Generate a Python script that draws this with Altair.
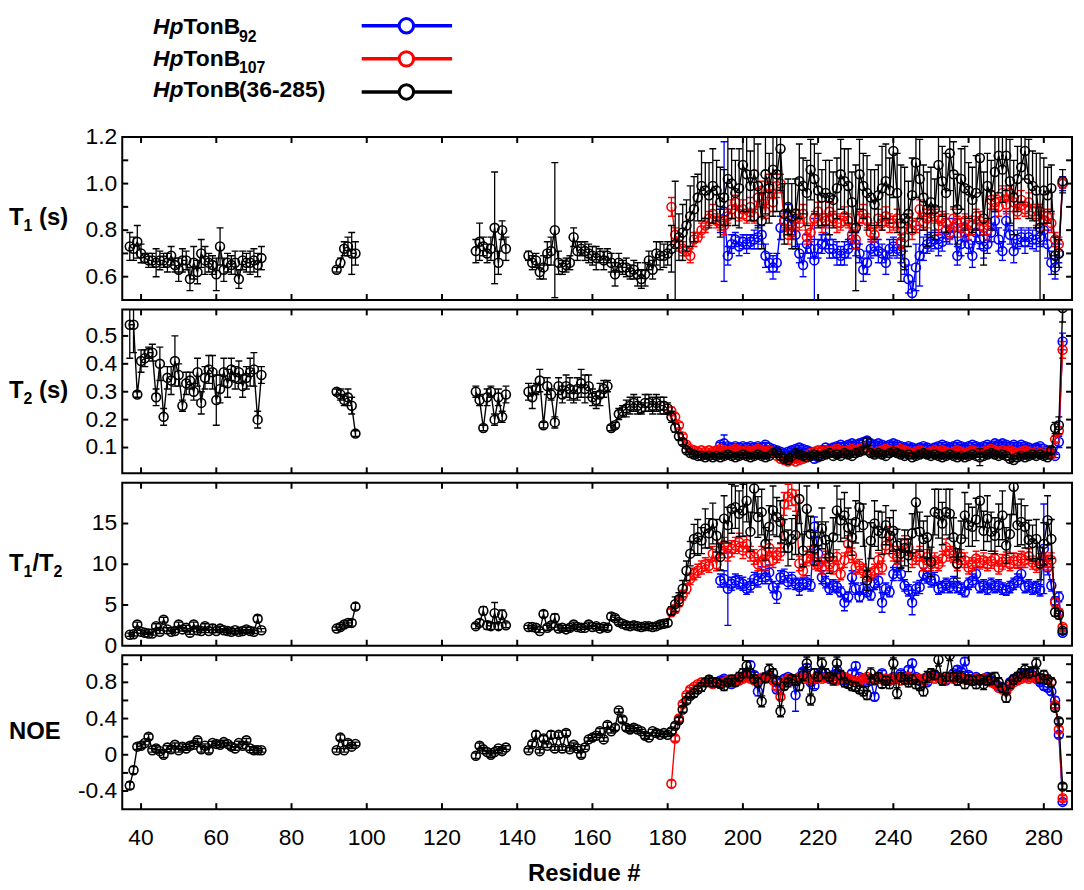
import altair as alt
import pandas as pd

BLUE, RED, BLACK = "#0000ff", "#ff0000", "#000000"
FONT = "Liberation Sans"

# residue ranges of each series (black has gaps)
BLACK_SEGMENTS = [(37, 72), (92, 97), (129, 137), (143, 285)]
RED_SEGMENTS = [(181, 285)]
BLUE_SEGMENTS = [(194, 285)]

X_TICKS = [40, 60, 80, 100, 120, 140, 160, 180, 200, 220, 240, 260, 280]
X_TICK_LABELS = ["40", "60", "80", "100", "120", "140", "160", "180", "200", "220", "240", "260", "280"]
X_TITLE = "Residue #"

LEGEND_SUFFIX = ["92", "107", "(36-285)"]
LEGEND_IS_SUB = [True, True, False]
LEGEND_COLORS = [BLUE, RED, BLACK]

# ---------------- T1 (s) ----------------
T1_BLACK = [
    0.73, 0.72, 0.75, 0.70, 0.68, 0.67, 0.67, 0.66, 0.67, 0.67,
    0.66, 0.69, 0.65, 0.63, 0.67, 0.67, 0.59, 0.66, 0.62, 0.70,
    0.67, 0.66, 0.65, 0.61, 0.73, 0.63, 0.66, 0.65, 0.66, 0.59,
    0.67, 0.66, 0.66, 0.67, 0.65, 0.68,
    0.63, 0.66, 0.72, 0.73, 0.70, 0.70,
    0.71, 0.75, 0.73, 0.70, 0.72, 0.81, 0.66, 0.80, 0.72,
    0.69, 0.66, 0.67, 0.62, 0.64, 0.70, 0.71,
    0.80, 0.66, 0.64, 0.65, 0.66, 0.77, 0.71, 0.72, 0.71, 0.70,
    0.69, 0.68, 0.69, 0.67, 0.69, 0.66, 0.61, 0.66, 0.64, 0.64,
    0.62, 0.63, 0.61, 0.59, 0.61, 0.67, 0.63, 0.70, 0.69, 0.69, 0.70,
    0.72, 0.74, 0.77, 0.79, 0.82, 0.86, 0.89, 0.94, 0.99, 0.97,
    0.95, 0.99, 0.97, 0.92, 0.94, 1.02, 1.00, 0.96, 0.98, 1.08,
    1.04, 0.99, 1.04, 0.99, 0.84, 1.04, 0.98, 1.06, 1.04, 1.15,
    0.87, 0.90, 0.86, 0.87, 1.01, 0.99, 0.96, 1.06, 1.02, 0.97,
    0.94, 0.96, 0.94, 0.93, 0.98, 1.04, 1.01, 0.99, 0.92, 0.81,
    1.04, 0.99, 0.96, 0.94, 0.91, 0.95, 0.98, 1.01, 0.97, 1.14,
    0.96, 0.83, 0.85, 0.87, 0.95, 1.09, 1.02, 0.94, 0.89, 0.92,
    0.89, 1.08, 1.01, 0.96, 1.13, 1.04, 0.89, 1.02, 0.98, 0.97,
    0.93, 0.96, 1.11, 0.85, 0.99, 0.95, 1.05, 1.12, 1.06, 1.12,
    1.01, 0.94, 1.02, 1.07, 1.14, 1.02, 0.99, 0.97, 0.81, 0.97,
    0.95, 0.98, 0.69, 0.70, 1.01,
]
T1_BLACK_ERR = [
    0.06, 0.05, 0.07, 0.04, 0.02, 0.03, 0.03, 0.06, 0.04, 0.03,
    0.04, 0.04, 0.03, 0.05, 0.05, 0.04, 0.05, 0.07, 0.05, 0.06,
    0.06, 0.04, 0.04, 0.07, 0.08, 0.05, 0.04, 0.04, 0.05, 0.04,
    0.04, 0.04, 0.05, 0.05, 0.05, 0.05,
    0.01, 0.02, 0.03, 0.04, 0.09, 0.05,
    0.05, 0.08, 0.04, 0.04, 0.05, 0.24, 0.05, 0.04, 0.05,
    0.02, 0.03, 0.03, 0.03, 0.05, 0.05, 0.06,
    0.29, 0.05, 0.03, 0.03, 0.03, 0.04, 0.04, 0.03, 0.04, 0.04,
    0.04, 0.05, 0.03, 0.04, 0.03, 0.04, 0.05, 0.04, 0.03, 0.04,
    0.03, 0.04, 0.05, 0.04, 0.05, 0.04, 0.04, 0.05, 0.06, 0.05, 0.05,
    0.10, 0.27, 0.10, 0.12, 0.11, 0.13, 0.14, 0.10, 0.15, 0.12,
    0.14, 0.16, 0.13, 0.15, 0.12, 0.20, 0.15, 0.14, 0.17, 0.20,
    0.16, 0.15, 0.20, 0.18, 0.12, 0.17, 0.15, 0.20, 0.16, 0.18,
    0.13, 0.12, 0.14, 0.15, 0.16, 0.12, 0.14, 0.13, 0.15, 0.16,
    0.12, 0.14, 0.16, 0.12, 0.13, 0.15, 0.14, 0.16, 0.13, 0.27,
    0.15, 0.14, 0.16, 0.12, 0.15, 0.13, 0.18, 0.16, 0.14, 0.20,
    0.17, 0.25, 0.22, 0.14, 0.16, 0.15, 0.17, 0.14, 0.16, 0.15,
    0.13, 0.18, 0.15, 0.17, 0.16, 0.14, 0.15, 0.13, 0.18, 0.12,
    0.14, 0.16, 0.15, 0.20, 0.14, 0.15, 0.17, 0.16, 0.14, 0.15,
    0.18, 0.16, 0.14, 0.15, 0.12, 0.17, 0.15, 0.16, 0.32, 0.14,
    0.12, 0.10, 0.08, 0.06, 0.05,
]
T1_RED = [
    0.90, 0.78, 0.74, 0.72, 0.71, 0.69, 0.76, 0.77, 0.80, 0.82,
    0.85, 0.87, 0.84, 0.83, 0.82, 0.86, 0.89, 0.92, 0.87, 0.89,
    0.86, 0.90, 0.86, 0.94, 0.97, 0.88, 0.99, 0.92, 0.99, 1.00,
    0.84, 0.78, 0.79, 0.85, 0.83, 0.87, 0.77, 0.79, 0.85, 0.88,
    0.83, 0.84, 0.88, 0.85, 0.83, 0.83, 0.86, 0.84, 0.78, 0.76,
    0.85, 0.87, 0.84, 0.79, 0.78, 0.85, 0.83, 0.86, 0.83, 0.83,
    0.85, 0.75, 0.77, 0.84, 0.80, 0.82, 0.89, 0.83, 0.85, 0.87,
    0.86, 0.82, 0.85, 0.83, 0.79, 0.85, 0.83, 0.81, 0.84, 0.80,
    0.82, 0.86, 0.84, 0.81, 0.80, 0.93, 0.92, 0.90, 0.96, 0.91,
    0.96, 0.92, 0.88, 0.93, 0.89, 0.92, 0.88, 0.86, 0.88, 0.84,
    0.86, 0.83, 0.76, 0.74, 1.00,
]
T1_RED_ERR = [
    0.04, 0.03, 0.03, 0.03, 0.02, 0.03, 0.03, 0.02, 0.03, 0.03,
    0.03, 0.04, 0.03, 0.03, 0.04, 0.03, 0.04, 0.03, 0.03, 0.04,
    0.03, 0.04, 0.03, 0.04, 0.04, 0.03, 0.05, 0.04, 0.05, 0.04,
    0.03, 0.04, 0.03, 0.04, 0.03, 0.04, 0.03, 0.04, 0.03, 0.04,
    0.04, 0.03, 0.04, 0.03, 0.04, 0.03, 0.04, 0.03, 0.03, 0.04,
    0.03, 0.04, 0.03, 0.04, 0.03, 0.04, 0.03, 0.04, 0.04, 0.03,
    0.04, 0.03, 0.04, 0.03, 0.04, 0.03, 0.04, 0.03, 0.04, 0.03,
    0.03, 0.04, 0.03, 0.04, 0.03, 0.04, 0.03, 0.04, 0.03, 0.04,
    0.04, 0.03, 0.04, 0.03, 0.04, 0.04, 0.03, 0.04, 0.03, 0.04,
    0.03, 0.04, 0.03, 0.04, 0.03, 0.04, 0.03, 0.04, 0.03, 0.04,
    0.03, 0.04, 0.03, 0.03, 0.02,
]
T1_BLUE = [
    0.84, 0.88, 0.69, 0.74, 0.76, 0.73, 0.75,
    0.74, 0.75, 0.76, 0.77, 0.78, 0.69, 0.66, 0.64, 0.66, 0.81,
    0.84, 0.86, 0.82, 0.78, 0.70, 0.65, 0.74, 0.72, 0.67, 0.72,
    0.74, 0.77, 0.72, 0.72, 0.70, 0.69, 0.70, 0.72, 0.76, 0.74,
    0.70, 0.63, 0.66, 0.72, 0.73, 0.71, 0.70, 0.66, 0.72, 0.73,
    0.72, 0.71, 0.66, 0.59, 0.53, 0.64, 0.69, 0.72, 0.74, 0.75,
    0.76, 0.74, 0.75, 0.80, 0.78, 0.81, 0.69, 0.74, 0.79, 0.74,
    0.69, 0.79, 0.76, 0.73, 0.74, 0.79, 0.84, 0.76, 0.71, 0.84,
    0.78, 0.71, 0.76, 0.77, 0.75, 0.77, 0.76, 0.76, 0.77, 0.80,
    0.74, 0.66, 0.64, 0.70, 1.00,
]
T1_BLUE_ERR = [
    0.05, 0.30, 0.04, 0.04, 0.03, 0.04, 0.03,
    0.04, 0.03, 0.04, 0.05, 0.04, 0.05, 0.04, 0.05, 0.04, 0.05,
    0.04, 0.05, 0.04, 0.05, 0.04, 0.05, 0.04, 0.04, 0.18, 0.04,
    0.04, 0.05, 0.04, 0.04, 0.05, 0.04, 0.05, 0.04, 0.04, 0.05,
    0.04, 0.05, 0.05, 0.04, 0.04, 0.05, 0.04, 0.05, 0.04, 0.04,
    0.04, 0.05, 0.05, 0.06, 0.05, 0.10, 0.13, 0.05, 0.04, 0.04,
    0.04, 0.05, 0.04, 0.05, 0.04, 0.04, 0.04, 0.05, 0.04, 0.04,
    0.05, 0.04, 0.04, 0.05, 0.04, 0.04, 0.04, 0.05, 0.04, 0.04,
    0.04, 0.05, 0.04, 0.04, 0.05, 0.04, 0.04, 0.05, 0.04, 0.06,
    0.06, 0.05, 0.05, 0.04, 0.03,
]

# ---------------- T2 (s) ----------------
T2_BLACK = [
    0.54, 0.54, 0.29, 0.41, 0.42, 0.44, 0.44, 0.28, 0.40, 0.21,
    0.35, 0.34, 0.41, 0.36, 0.25, 0.33, 0.34, 0.30, 0.37, 0.26,
    0.35, 0.38, 0.37, 0.27, 0.31, 0.37, 0.33, 0.38, 0.35, 0.37,
    0.32, 0.35, 0.37, 0.38, 0.20, 0.36,
    0.30, 0.29, 0.27, 0.28, 0.25, 0.15,
    0.30, 0.27, 0.17, 0.28, 0.30, 0.20, 0.28, 0.21, 0.29,
    0.30, 0.28, 0.31, 0.34, 0.18, 0.32, 0.29,
    0.19, 0.32, 0.29, 0.32, 0.31, 0.29, 0.31, 0.33, 0.31, 0.32,
    0.28, 0.27, 0.29, 0.31, 0.32, 0.17, 0.18, 0.22, 0.23, 0.24,
    0.25, 0.26, 0.25, 0.24, 0.26, 0.26, 0.25, 0.26, 0.25, 0.25, 0.24,
    0.21, 0.17, 0.14, 0.12, 0.09, 0.08, 0.075, 0.07, 0.07, 0.065,
    0.07, 0.065, 0.07, 0.065, 0.07, 0.075, 0.07, 0.065, 0.07, 0.075,
    0.07, 0.065, 0.07, 0.075, 0.07, 0.065, 0.07, 0.08, 0.085, 0.07,
    0.06, 0.055, 0.07, 0.08, 0.075, 0.07, 0.065, 0.07, 0.075, 0.07,
    0.07, 0.075, 0.08, 0.07, 0.075, 0.07, 0.08, 0.075, 0.07, 0.08,
    0.085, 0.09, 0.12, 0.08, 0.075, 0.08, 0.075, 0.07, 0.08, 0.085,
    0.08, 0.075, 0.07, 0.075, 0.065, 0.07, 0.075, 0.08, 0.075, 0.07,
    0.075, 0.07, 0.065, 0.07, 0.075, 0.07, 0.065, 0.07, 0.065, 0.07,
    0.075, 0.07, 0.065, 0.07, 0.075, 0.08, 0.075, 0.07, 0.075, 0.07,
    0.06, 0.055, 0.065, 0.07, 0.065, 0.07, 0.075, 0.07, 0.075, 0.07,
    0.065, 0.09, 0.17, 0.18, 0.60,
]
T2_BLACK_ERR = [
    0.12, 0.10, 0.01, 0.04, 0.03, 0.02, 0.03, 0.03, 0.06, 0.03,
    0.04, 0.05, 0.09, 0.04, 0.02, 0.04, 0.03, 0.03, 0.05, 0.04,
    0.04, 0.05, 0.06, 0.09, 0.05, 0.05, 0.05, 0.04, 0.04, 0.04,
    0.04, 0.04, 0.05, 0.06, 0.03, 0.03,
    0.01, 0.02, 0.02, 0.03, 0.03, 0.01,
    0.02, 0.02, 0.01, 0.03, 0.02, 0.02, 0.03, 0.02, 0.03,
    0.03, 0.04, 0.02, 0.04, 0.01, 0.03, 0.02,
    0.02, 0.03, 0.03, 0.04, 0.04, 0.03, 0.04, 0.05, 0.05, 0.04,
    0.03, 0.03, 0.04, 0.03, 0.02, 0.01, 0.01, 0.02, 0.02, 0.03,
    0.03, 0.03, 0.03, 0.02, 0.03, 0.03, 0.03, 0.03, 0.03, 0.03, 0.02,
    0.020, 0.015, 0.012, 0.010, 0.008, 0.006, 0.006, 0.005, 0.006, 0.005,
    0.005, 0.006, 0.006, 0.005, 0.006, 0.007, 0.005, 0.006, 0.006, 0.005,
    0.006, 0.005, 0.006, 0.007, 0.006, 0.005, 0.006, 0.007, 0.008, 0.006,
    0.005, 0.005, 0.006, 0.007, 0.006, 0.005, 0.006, 0.006, 0.007, 0.006,
    0.006, 0.007, 0.006, 0.005, 0.006, 0.006, 0.007, 0.006, 0.005, 0.007,
    0.008, 0.009, 0.015, 0.006, 0.006, 0.007, 0.006, 0.005, 0.007, 0.008,
    0.007, 0.006, 0.005, 0.006, 0.005, 0.006, 0.006, 0.007, 0.006, 0.005,
    0.006, 0.005, 0.005, 0.006, 0.006, 0.005, 0.005, 0.006, 0.005, 0.006,
    0.006, 0.005, 0.030, 0.006, 0.006, 0.007, 0.006, 0.005, 0.006, 0.005,
    0.005, 0.005, 0.006, 0.006, 0.005, 0.006, 0.006, 0.005, 0.006, 0.006,
    0.006, 0.010, 0.020, 0.030, 0.050,
]
T2_RED = [
    0.23, 0.21, 0.18, 0.14, 0.11, 0.095, 0.09, 0.085, 0.09, 0.085,
    0.09, 0.085, 0.09, 0.095, 0.09, 0.085, 0.09, 0.095, 0.09, 0.085,
    0.09, 0.085, 0.09, 0.095, 0.09, 0.085, 0.09, 0.08, 0.07, 0.06,
    0.055, 0.05, 0.055, 0.05, 0.055, 0.06, 0.07, 0.08, 0.085, 0.09,
    0.085, 0.09, 0.085, 0.09, 0.095, 0.09, 0.085, 0.09, 0.095, 0.09,
    0.095, 0.10, 0.09, 0.085, 0.08, 0.085, 0.09, 0.095, 0.09, 0.085,
    0.09, 0.095, 0.09, 0.085, 0.08, 0.085, 0.09, 0.085, 0.08, 0.085,
    0.09, 0.085, 0.09, 0.085, 0.08, 0.085, 0.09, 0.085, 0.08, 0.085,
    0.09, 0.085, 0.08, 0.085, 0.09, 0.095, 0.09, 0.085, 0.09, 0.085,
    0.09, 0.085, 0.08, 0.085, 0.09, 0.085, 0.08, 0.085, 0.08, 0.085,
    0.08, 0.075, 0.13, 0.16, 0.45,
]
T2_RED_ERR = [
    0.015, 0.012, 0.010, 0.008, 0.006, 0.005, 0.005, 0.005, 0.005, 0.005,
    0.005, 0.006, 0.005, 0.005, 0.006, 0.005, 0.005, 0.006, 0.005, 0.005,
    0.006, 0.005, 0.005, 0.006, 0.005, 0.005, 0.006, 0.005, 0.005, 0.004,
    0.004, 0.004, 0.004, 0.004, 0.004, 0.005, 0.005, 0.005, 0.005, 0.006,
    0.005, 0.005, 0.006, 0.005, 0.005, 0.006, 0.005, 0.005, 0.006, 0.005,
    0.005, 0.006, 0.005, 0.005, 0.006, 0.005, 0.005, 0.006, 0.005, 0.005,
    0.006, 0.005, 0.005, 0.006, 0.005, 0.005, 0.006, 0.005, 0.005, 0.006,
    0.005, 0.005, 0.006, 0.005, 0.005, 0.006, 0.005, 0.005, 0.006, 0.005,
    0.005, 0.006, 0.005, 0.005, 0.006, 0.005, 0.005, 0.006, 0.005, 0.005,
    0.006, 0.005, 0.005, 0.006, 0.005, 0.005, 0.006, 0.005, 0.005, 0.006,
    0.005, 0.006, 0.010, 0.015, 0.030,
]
T2_BLUE = [
    0.11, 0.115, 0.105, 0.10, 0.105, 0.10, 0.105,
    0.10, 0.105, 0.10, 0.105, 0.10, 0.11, 0.10, 0.095, 0.09, 0.085,
    0.08, 0.085, 0.09, 0.095, 0.10, 0.095, 0.09, 0.085, 0.06, 0.065,
    0.09, 0.10, 0.095, 0.10, 0.105, 0.11, 0.105, 0.11, 0.115, 0.11,
    0.115, 0.12, 0.125, 0.115, 0.11, 0.115, 0.11, 0.105, 0.11, 0.115,
    0.11, 0.105, 0.10, 0.105, 0.10, 0.095, 0.10, 0.105, 0.10, 0.095,
    0.10, 0.105, 0.11, 0.105, 0.10, 0.105, 0.11, 0.105, 0.10, 0.105,
    0.11, 0.105, 0.10, 0.105, 0.11, 0.105, 0.115, 0.11, 0.115, 0.11,
    0.105, 0.11, 0.105, 0.11, 0.105, 0.10, 0.095, 0.10, 0.105, 0.095,
    0.09, 0.08, 0.07, 0.12, 0.48,
]
T2_BLUE_ERR = [
    0.008, 0.030, 0.008, 0.007, 0.008, 0.007, 0.008,
    0.007, 0.008, 0.007, 0.008, 0.007, 0.008, 0.007, 0.007, 0.006, 0.006,
    0.006, 0.006, 0.007, 0.007, 0.008, 0.007, 0.007, 0.005, 0.005, 0.007,
    0.008, 0.007, 0.008, 0.008, 0.009, 0.008, 0.009, 0.009, 0.008, 0.009,
    0.010, 0.012, 0.009, 0.008, 0.009, 0.008, 0.008, 0.008, 0.009, 0.008,
    0.008, 0.007, 0.008, 0.007, 0.007, 0.007, 0.008, 0.007, 0.007, 0.007,
    0.008, 0.008, 0.008, 0.007, 0.008, 0.008, 0.008, 0.007, 0.008, 0.008,
    0.008, 0.007, 0.008, 0.008, 0.008, 0.009, 0.008, 0.009, 0.008, 0.008,
    0.008, 0.008, 0.008, 0.008, 0.007, 0.007, 0.007, 0.008, 0.007, 0.007,
    0.007, 0.006, 0.006, 0.020, 0.030,
]

# ---------------- T1/T2 ----------------
T12_BLACK = [
    1.35, 1.4, 2.6, 1.7, 1.6, 1.5, 1.5, 2.4, 1.7, 3.2,
    2.0, 1.7, 1.8, 2.6, 2.0, 2.2, 1.6, 2.6, 1.9, 1.8,
    2.4, 1.8, 2.1, 1.8, 2.1, 1.9, 1.8, 1.7, 1.9, 1.7,
    1.8, 2.0, 1.8, 1.7, 3.3, 1.9,
    2.1, 2.3, 2.6, 2.8, 2.8, 4.8,
    2.4, 2.8, 4.3, 2.5, 2.4, 4.0, 2.4, 3.8, 2.5,
    2.3, 2.3, 2.2, 1.8, 3.9, 2.2, 2.5,
    3.4, 2.1, 2.2, 2.0, 2.2, 2.6, 2.3, 2.2, 2.2, 2.6,
    2.3, 2.4, 2.1, 2.3, 2.2, 3.6, 3.4, 2.9, 2.7, 2.5,
    2.4, 2.5, 2.4, 2.3, 2.4, 2.4, 2.3, 2.4, 2.6, 2.7, 2.8,
    4.3, 5.1, 5.7, 7.0, 9.2, 11.3, 13.1, 13.3, 12.9, 14.4,
    13.8, 15.0, 13.5, 10.9, 15.6, 14.8, 16.8, 17.0, 16.2, 16.6,
    17.8, 14.0, 19.3, 15.8, 16.4, 12.5, 14.6, 16.6, 15.8, 15.2,
    13.5, 12.0, 13.1, 13.6, 18.0, 11.7, 16.8, 13.7, 11.9, 12.8,
    14.4, 13.0, 10.9, 13.3, 16.6, 15.4, 16.0, 14.5, 13.3, 15.2,
    17.0, 14.8, 8.0, 12.9, 15.0, 14.1, 13.8, 14.8, 13.5, 14.1,
    12.3, 11.3, 12.0, 11.1, 13.8, 17.6, 14.0, 13.1, 13.3, 10.3,
    16.4, 16.2, 15.0, 16.4, 16.2, 13.3, 10.1, 13.1, 16.0, 14.8,
    14.6, 15.5, 17.8, 14.1, 15.6, 14.0, 13.5, 14.8, 16.0, 12.3,
    13.7, 19.5, 14.8, 15.2, 14.6, 13.0, 12.6, 13.1, 10.1, 12.5,
    15.4, 13.1, 4.1, 3.8, 1.85,
]
T12_BLACK_ERR = [
    0.2, 0.2, 0.3, 0.2, 0.2, 0.1, 0.2, 0.3, 0.2, 0.3,
    0.2, 0.2, 0.2, 0.3, 0.2, 0.3, 0.2, 0.3, 0.2, 0.2,
    0.3, 0.2, 0.5, 0.2, 0.3, 0.2, 0.2, 0.2, 0.2, 0.2,
    0.2, 0.3, 0.2, 0.2, 0.4, 0.2,
    0.2, 0.3, 0.3, 0.3, 0.4, 0.4,
    0.3, 0.4, 0.5, 0.5, 0.4, 1.3, 0.4, 0.6, 0.3,
    0.2, 0.2, 0.2, 0.2, 0.4, 0.3, 0.3,
    0.5, 0.2, 0.3, 0.2, 0.3, 0.3, 0.3, 0.2, 0.2, 0.3,
    0.2, 0.3, 0.2, 0.3, 0.3, 0.4, 0.3, 0.3, 0.2, 0.3,
    0.2, 0.3, 0.2, 0.3, 0.2, 0.3, 0.2, 0.3, 0.3, 0.3, 0.4,
    0.5, 0.9, 0.8, 1.0, 1.2, 1.5, 1.8, 2.2, 1.6, 2.4,
    1.8, 2.5, 2.0, 1.6, 2.8, 2.2, 3.0, 2.6, 2.8, 3.2,
    2.6, 2.4, 3.0, 2.5, 2.8, 2.0, 2.6, 3.0, 2.4, 2.6,
    2.0, 2.2, 2.5, 2.4, 3.0, 2.0, 2.8, 2.2, 2.0, 2.4,
    2.5, 2.2, 2.0, 2.4, 3.0, 2.6, 2.8, 2.4, 2.2, 2.6,
    3.0, 2.6, 1.2, 2.2, 2.8, 2.4, 2.6, 2.4, 2.2, 2.5,
    2.0, 1.8, 2.2, 2.0, 2.4, 3.2, 2.4, 2.2, 2.6, 1.8,
    2.8, 3.0, 2.6, 2.8, 3.0, 2.4, 1.8, 2.2, 2.8, 2.6,
    2.4, 2.6, 3.2, 2.4, 2.8, 2.4, 2.2, 2.6, 3.0, 2.2,
    2.4, 3.4, 2.6, 2.8, 2.6, 2.4, 2.2, 2.4, 2.0, 2.6,
    3.0, 2.4, 0.5, 0.5, 0.3,
]
T12_RED = [
    4.1, 4.5, 5.3, 6.2, 7.0, 8.2, 8.8, 9.2, 9.6, 10.0,
    9.8, 11.3, 10.0, 11.7, 12.3, 11.3, 11.9, 12.3, 12.7, 11.7,
    12.5, 11.3, 10.9, 10.0, 11.3, 10.2, 12.0, 10.5, 11.1, 11.5,
    17.4, 18.3, 18.7, 17.8, 10.1, 9.2, 10.7, 11.3, 10.3, 10.0,
    9.6, 10.7, 10.0, 9.6, 10.9, 8.8, 10.5, 12.5, 11.1, 9.6,
    9.8, 9.2, 8.6, 8.8, 9.2, 10.5, 9.6, 12.3, 13.5, 11.3,
    10.9, 11.3, 12.5, 12.1, 10.5, 10.9, 11.3, 10.0, 10.9, 10.0,
    10.5, 10.0, 10.7, 12.1, 11.3, 11.1, 10.0, 10.9, 10.5, 9.6,
    10.0, 10.7, 10.2, 10.5, 10.0, 10.4, 10.7, 9.6, 10.3, 10.6,
    10.0, 10.5, 10.4, 10.7, 10.5, 11.0, 10.2, 9.8, 10.4, 10.5,
    10.2, 10.5, 5.3, 4.1, 2.3,
]
T12_RED_ERR = [
    0.4, 0.5, 0.5, 0.6, 0.6, 0.7, 0.7, 0.8, 0.8, 0.8,
    0.8, 0.9, 0.8, 0.9, 1.0, 0.9, 1.0, 1.0, 1.1, 1.0,
    1.0, 0.9, 0.9, 0.8, 0.9, 0.9, 1.0, 0.9, 0.9, 1.0,
    1.4, 1.5, 1.5, 1.3, 0.9, 0.8, 0.9, 0.9, 0.9, 0.8,
    0.8, 0.9, 0.8, 0.8, 0.9, 0.7, 0.9, 1.0, 0.9, 0.8,
    0.8, 0.8, 0.7, 0.7, 0.8, 0.9, 0.8, 1.0, 1.1, 0.9,
    0.9, 0.9, 1.0, 1.0, 0.9, 0.9, 0.9, 0.8, 0.9, 0.8,
    0.9, 0.8, 0.9, 1.0, 0.9, 0.9, 0.8, 0.9, 0.9, 0.8,
    0.8, 0.9, 0.8, 0.9, 0.8, 0.9, 0.9, 0.8, 0.9, 0.9,
    0.8, 0.9, 0.9, 0.9, 0.9, 0.9, 0.8, 0.8, 0.9, 0.9,
    0.9, 0.9, 0.5, 0.4, 0.3,
]
T12_BLUE = [
    8.0, 8.2, 7.0, 7.6, 8.0, 7.8, 7.6,
    7.0, 7.4, 8.2, 8.0, 8.8, 8.4, 9.0, 7.2, 6.2, 8.4,
    8.6, 7.8, 8.2, 7.6, 7.2, 7.6, 7.8, 7.4, 14.6, 11.3,
    8.4, 7.8, 7.0, 7.4, 7.2, 6.6, 5.3, 6.0, 8.4, 7.0,
    6.0, 7.0, 6.6, 6.2, 7.6, 8.0, 5.3, 7.0, 6.6, 8.8,
    9.6, 8.8, 7.4, 6.8, 5.3, 7.0, 7.2, 8.8, 8.4, 8.0,
    8.2, 7.0, 7.2, 7.6, 7.2, 7.8, 7.2, 7.0, 6.6, 7.6,
    8.0, 8.8, 7.2, 7.4, 7.0, 7.6, 7.2, 7.4, 7.0, 6.8,
    7.2, 7.6, 8.0, 8.8, 7.2, 7.4, 7.0, 7.2, 6.8, 11.9,
    9.6, 7.4, 5.5, 6.0, 1.6,
]
T12_BLUE_ERR = [
    0.8, 1.0, 4.5, 0.8, 0.8, 0.8, 0.8,
    0.7, 0.8, 0.8, 0.8, 0.9, 0.8, 0.9, 0.7, 1.0, 0.8,
    0.8, 0.8, 0.8, 0.7, 1.0, 0.7, 0.8, 0.7, 1.2, 1.0,
    0.8, 0.7, 0.7, 0.7, 0.7, 0.6, 1.0, 0.6, 0.8, 0.7,
    0.6, 0.7, 0.6, 0.6, 0.7, 0.8, 1.2, 0.7, 0.6, 0.8,
    0.9, 0.8, 0.7, 0.7, 1.5, 0.8, 0.8, 0.7, 0.7, 0.8,
    0.8, 0.7, 0.7, 0.7, 0.7, 0.7, 0.7, 0.7, 0.6, 0.7,
    0.8, 0.8, 0.7, 0.7, 0.7, 0.7, 0.7, 0.7, 0.7, 0.6,
    0.7, 0.7, 0.8, 0.8, 0.7, 0.7, 0.7, 0.7, 0.7, 5.5,
    0.9, 0.7, 0.5, 0.6, 0.2,
]

# ---------------- NOE ----------------
NOE_BLACK = [
    -0.34, -0.17, 0.09, 0.10, 0.13, 0.20, 0.05, 0.07, 0.04, 0.00,
    0.08, 0.06, 0.11, 0.05, 0.09, 0.07, 0.10, 0.11, 0.16, 0.06,
    0.10, 0.05, 0.13, 0.12, 0.11, 0.14, 0.12, 0.09, 0.07, 0.13,
    0.10, 0.16, 0.07, 0.05, 0.05, 0.05,
    0.05, 0.19, 0.05, 0.13, 0.09, 0.12,
    -0.01, 0.10, 0.06, 0.03, 0.00, 0.03, 0.07, 0.04, 0.08,
    0.05, 0.12, 0.22, 0.04, 0.18, 0.10, 0.22,
    0.07, 0.22, 0.07, 0.24, 0.06, 0.11, 0.07, 0.00, 0.08, 0.17,
    0.19, 0.21, 0.26, 0.17, 0.33, 0.26, 0.30, 0.49, 0.39, 0.30,
    0.28, 0.30, 0.28, 0.26, 0.21, 0.19, 0.26, 0.24, 0.22, 0.24, 0.22,
    0.26, 0.32, 0.38, 0.50, 0.60, 0.65, 0.68, 0.72, 0.75, 0.80,
    0.83, 0.80, 0.80, 0.78, 0.76, 0.80, 0.83, 0.80, 0.86, 0.90,
    0.98, 0.90, 0.84, 0.80, 0.59, 0.85, 0.94, 0.90, 0.82, 0.48,
    0.76, 0.80, 0.84, 0.82, 0.76, 0.88, 1.01, 0.61, 0.90, 0.86,
    1.01, 0.90, 0.86, 0.83, 1.01, 0.88, 0.80, 0.78, 0.76, 0.75,
    0.72, 0.70, 0.66, 0.90, 0.83, 0.86, 0.78, 0.82, 0.78, 1.01,
    0.68, 0.86, 0.83, 0.80, 0.83, 0.78, 0.76, 0.70, 0.86, 0.90,
    0.88, 1.05, 0.82, 0.86, 1.10, 0.86, 0.82, 0.86, 0.78, 0.83,
    0.82, 0.78, 0.83, 0.78, 0.82, 0.84, 0.86, 0.80, 0.74, 0.63,
    0.78, 0.83, 0.86, 0.90, 0.94, 0.90, 0.92, 1.01, 0.84, 0.88,
    0.83, 0.80, 0.52, 0.37, -0.35,
]
NOE_BLACK_ERR = [
    0.04, 0.04, 0.03, 0.03, 0.02, 0.03, 0.02, 0.03, 0.02, 0.03,
    0.02, 0.03, 0.02, 0.02, 0.03, 0.02, 0.03, 0.02, 0.02, 0.03,
    0.02, 0.03, 0.02, 0.02, 0.03, 0.02, 0.02, 0.03, 0.02, 0.02,
    0.03, 0.02, 0.02, 0.03, 0.02, 0.02,
    0.02, 0.03, 0.02, 0.03, 0.02, 0.02,
    0.03, 0.03, 0.02, 0.02, 0.03, 0.02, 0.02, 0.03, 0.02,
    0.02, 0.03, 0.04, 0.02, 0.03, 0.02, 0.04,
    0.02, 0.03, 0.02, 0.03, 0.02, 0.02, 0.02, 0.03, 0.02, 0.02,
    0.03, 0.02, 0.03, 0.02, 0.03, 0.02, 0.03, 0.02, 0.03, 0.03,
    0.03, 0.03, 0.02, 0.02, 0.03, 0.02, 0.02, 0.03, 0.02, 0.02, 0.02,
    0.03, 0.03, 0.03, 0.03, 0.03, 0.03, 0.04, 0.04, 0.05, 0.04,
    0.04, 0.05, 0.04, 0.04, 0.05, 0.04, 0.05, 0.04, 0.05, 0.05,
    0.06, 0.05, 0.04, 0.05, 0.06, 0.05, 0.06, 0.05, 0.04, 0.06,
    0.04, 0.05, 0.04, 0.05, 0.05, 0.06, 0.07, 0.06, 0.05, 0.05,
    0.06, 0.05, 0.05, 0.06, 0.07, 0.05, 0.05, 0.04, 0.05, 0.05,
    0.04, 0.05, 0.05, 0.06, 0.05, 0.05, 0.04, 0.05, 0.05, 0.06,
    0.06, 0.05, 0.05, 0.05, 0.05, 0.05, 0.05, 0.05, 0.06, 0.05,
    0.05, 0.07, 0.05, 0.05, 0.06, 0.05, 0.05, 0.06, 0.05, 0.05,
    0.05, 0.05, 0.05, 0.06, 0.05, 0.06, 0.05, 0.05, 0.05, 0.05,
    0.05, 0.05, 0.05, 0.05, 0.06, 0.05, 0.05, 0.06, 0.05, 0.05,
    0.05, 0.05, 0.04, 0.03, 0.03,
]
NOE_RED = [
    -0.32, 0.18, 0.40, 0.56, 0.66, 0.72, 0.75, 0.78, 0.80, 0.80,
    0.80, 0.78, 0.80, 0.78, 0.80, 0.82, 0.80, 0.83, 0.82, 0.84,
    0.86, 0.84, 0.82, 0.83, 0.85, 0.84, 0.86, 0.82, 0.75, 0.64,
    0.80, 0.84, 0.83, 0.82, 0.85, 0.84, 0.86, 0.82, 0.84, 0.86,
    0.84, 0.85, 0.86, 0.84, 0.82, 0.84, 0.86, 0.84, 0.82, 0.80,
    0.82, 0.84, 0.86, 0.84, 0.82, 0.84, 0.83, 0.84, 0.82, 0.85,
    0.84, 0.82, 0.84, 0.86, 0.84, 0.83, 0.84, 0.82, 0.84, 0.86,
    0.84, 0.85, 0.84, 0.83, 0.86, 0.84, 0.82, 0.84, 0.83, 0.84,
    0.82, 0.84, 0.83, 0.84, 0.82, 0.80, 0.78, 0.74, 0.72, 0.70,
    0.76, 0.80, 0.82, 0.84, 0.86, 0.84, 0.86, 0.84, 0.85, 0.84,
    0.83, 0.80, 0.55, 0.28, -0.48,
]
NOE_RED_ERR = [
    0.04, 0.03, 0.03, 0.02, 0.02, 0.02, 0.02, 0.02, 0.02, 0.02,
    0.02, 0.03, 0.02, 0.02, 0.03, 0.02, 0.02, 0.03, 0.02, 0.02,
    0.03, 0.02, 0.02, 0.03, 0.02, 0.02, 0.03, 0.02, 0.03, 0.03,
    0.02, 0.02, 0.03, 0.02, 0.02, 0.03, 0.02, 0.02, 0.03, 0.02,
    0.02, 0.03, 0.02, 0.02, 0.03, 0.02, 0.02, 0.03, 0.02, 0.02,
    0.03, 0.02, 0.02, 0.03, 0.02, 0.02, 0.03, 0.02, 0.02, 0.03,
    0.02, 0.02, 0.03, 0.02, 0.02, 0.03, 0.02, 0.02, 0.03, 0.02,
    0.02, 0.03, 0.02, 0.02, 0.03, 0.02, 0.02, 0.03, 0.02, 0.02,
    0.03, 0.02, 0.02, 0.03, 0.02, 0.02, 0.03, 0.02, 0.02, 0.03,
    0.02, 0.02, 0.03, 0.02, 0.02, 0.03, 0.02, 0.02, 0.03, 0.02,
    0.03, 0.03, 0.03, 0.03, 0.03,
]
NOE_BLUE = [
    0.82, 0.84, 0.80, 0.78, 0.82, 0.84, 0.86,
    0.90, 0.99, 0.88, 0.70, 0.84, 0.86, 0.88, 0.84, 0.72, 0.80,
    0.84, 0.86, 0.82, 0.66, 0.86, 0.92, 0.96, 0.80, 0.76, 0.88,
    0.92, 0.86, 0.84, 0.88, 0.94, 0.86, 0.82, 0.84, 0.90, 0.98,
    0.86, 0.84, 0.80, 0.82, 0.64, 0.86, 0.90, 0.84, 0.82, 0.86,
    0.84, 0.90, 0.86, 0.94, 1.01, 0.86, 0.82, 0.84, 0.80, 0.86,
    0.88, 0.86, 0.84, 0.82, 0.86, 0.90, 0.94, 0.92, 1.03, 0.88,
    0.84, 0.86, 0.82, 0.84, 0.86, 0.82, 0.80, 0.76, 0.74, 0.72,
    0.80, 0.84, 0.86, 0.88, 0.86, 0.90, 0.88, 0.84, 0.80, 0.76,
    0.74, 0.70, 0.60, 0.22, -0.52,
]
NOE_BLUE_ERR = [
    0.03, 0.03, 0.03, 0.03, 0.03, 0.03, 0.03,
    0.03, 0.04, 0.03, 0.05, 0.03, 0.03, 0.03, 0.03, 0.04, 0.03,
    0.03, 0.03, 0.03, 0.18, 0.03, 0.03, 0.04, 0.03, 0.03, 0.03,
    0.03, 0.03, 0.03, 0.03, 0.04, 0.03, 0.03, 0.03, 0.03, 0.04,
    0.03, 0.03, 0.03, 0.03, 0.04, 0.03, 0.03, 0.03, 0.03, 0.03,
    0.03, 0.03, 0.03, 0.03, 0.04, 0.03, 0.03, 0.03, 0.03, 0.03,
    0.03, 0.03, 0.03, 0.03, 0.03, 0.03, 0.04, 0.03, 0.04, 0.03,
    0.03, 0.03, 0.03, 0.03, 0.03, 0.03, 0.03, 0.03, 0.03, 0.03,
    0.03, 0.03, 0.03, 0.03, 0.03, 0.03, 0.03, 0.03, 0.03, 0.04,
    0.04, 0.04, 0.04, 0.03, 0.03,
]

# y-axis tick label texts and panel titles (pieces: text, is_subscript)
T1_TICK_LABELS = ["0.6", "0.8", "1.0", "1.2"]
T2_TICK_LABELS = ["0.1", "0.2", "0.3", "0.4", "0.5"]
T12_TICK_LABELS = ["0", "5", "10", "15"]
NOE_TICK_LABELS = ["-0.4", "0", "0.4", "0.8"]

PANELS = [
    dict(title=[("T", False), ("1", True), ("(s)", False)], domain=[0.5, 1.2],
         ticks=[0.6, 0.7, 0.8, 0.9, 1.0, 1.1], labels=[0.6, 0.8, 1.0, 1.2], label_text=T1_TICK_LABELS, h=164,
         data=[(T1_BLUE, T1_BLUE_ERR), (T1_RED, T1_RED_ERR), (T1_BLACK, T1_BLACK_ERR)]),
    dict(title=[("T", False), ("2", True), ("(s)", False)], domain=[0.0075, 0.595],
         ticks=[0.1, 0.2, 0.3, 0.4, 0.5], labels=[0.1, 0.2, 0.3, 0.4, 0.5], label_text=T2_TICK_LABELS, h=165,
         data=[(T2_BLUE, T2_BLUE_ERR), (T2_RED, T2_RED_ERR), (T2_BLACK, T2_BLACK_ERR)]),
    dict(title=[("T", False), ("1", True), ("/T", False), ("2", True)], domain=[0, 20],
         ticks=[5, 10, 15], labels=[0, 5, 10, 15], label_text=T12_TICK_LABELS, h=164,
         data=[(T12_BLUE, T12_BLUE_ERR), (T12_RED, T12_RED_ERR), (T12_BLACK, T12_BLACK_ERR)]),
    dict(title=[("NOE", False)], domain=[-0.6, 1.1],
         ticks=[-0.4, -0.2, 0, 0.2, 0.4, 0.6, 0.8, 1.0], labels=[-0.4, 0, 0.4, 0.8], label_text=NOE_TICK_LABELS,
         h=155,
         data=[(NOE_BLUE, NOE_BLUE_ERR), (NOE_RED, NOE_RED_ERR), (NOE_BLACK, NOE_BLACK_ERR)]),
]

SERIES_META = [(BLUE_SEGMENTS, BLUE, "b"), (RED_SEGMENTS, RED, "r"), (BLACK_SEGMENTS, BLACK, "k")]

# approximate advance widths (em) of Liberation Sans Bold, used to place text pieces side by side
BOLD_W = {"T": 0.611, "o": 0.611, "n": 0.611, "B": 0.722, "H": 0.722, "p": 0.611, "(": 0.333, ")": 0.333,
          "-": 0.333, " ": 0.278, "s": 0.556, "/": 0.278, "N": 0.722, "O": 0.778, "E": 0.667}


def text_width(s, fs):
    return sum(BOLD_W.get(c, 0.556) for c in s) * fs


def frame(values, errs, segments, name):
    rows = []
    i = 0
    for k, (a, b) in enumerate(segments):
        for r in range(a, b + 1):
            if i >= len(values):
                break
            v = values[i]
            e = errs[i] if i < len(errs) else 0.0
            rows.append((r, v, v - e, v + e, f"{name}{k}"))
            i += 1
    return pd.DataFrame(rows, columns=["res", "val", "lo", "hi", "seg"])


W = 956
XS = alt.Scale(domain=[35, 287.5], nice=False, zero=False)
ONE = pd.DataFrame({"k": [0]})


def txt(text, x, y, fs, align="left", baseline="alphabetic", italic=False, bold=True):
    kw = dict(text=text, font=FONT, fontSize=fs, align=align, baseline=baseline, color=BLACK)
    if bold:
        kw["fontWeight"] = "bold"
    if italic:
        kw["fontStyle"] = "italic"
    return alt.Chart(ONE).mark_text(**kw).encode(x=alt.value(x), y=alt.value(y))


def legend_layers():
    out = []
    fs = 23
    for i, (suf, sub, col) in enumerate(zip(LEGEND_SUFFIX, LEGEND_IS_SUB, LEGEND_COLORS)):
        y_top = -122 + 32 * i
        yc = -112 + 33.3 * i
        x0 = 31
        out.append(txt("Hp", x0, y_top, fs, baseline="top", italic=True))
        x1 = x0 + text_width("Hp", fs)
        out.append(txt("TonB", x1, y_top, fs, baseline="top"))
        x2 = x1 + text_width("TonB", fs) - 3
        if sub:
            out.append(txt(suf, x2, y_top + 26, 16))
        else:
            out.append(txt(suf, x2, y_top, fs, baseline="top"))
        out.append(alt.Chart(ONE).mark_rule(color=col, strokeWidth=3.5).encode(
            x=alt.value(241), x2=alt.value(332), y=alt.value(yc)))
        out.append(alt.Chart(ONE).mark_point(shape="circle", filled=True, fill="white", stroke=col,
                                             strokeWidth=3, size=210, opacity=1).encode(
            x=alt.value(286), y=alt.value(yc)))
    return out


def title_layers(pieces, h):
    out = []
    x = -114
    fs, sfs = 24, 16
    for j, (s, sub) in enumerate(pieces):
        if sub:
            out.append(txt(s, x, h / 2 + 8, sfs, baseline="middle"))
            x += text_width(s, sfs)
            if j + 1 < len(pieces) and pieces[j + 1][0].startswith("("):
                x += text_width(" ", fs)
        else:
            out.append(txt(s, x, h / 2, fs, baseline="middle"))
            x += text_width(s, fs)
    return out


def panel(spec, bottom, with_legend):
    h = spec["h"]
    ys = alt.Scale(domain=spec["domain"], nice=False, zero=False)
    layers = []
    for (vals, errs), (segs, col, nm) in zip(spec["data"], SERIES_META):
        df = frame(vals, errs, segs, nm)
        base = alt.Chart(df)
        x = alt.X("res:Q", scale=XS, axis=None)
        layers += [
            base.mark_rule(color=col, strokeWidth=1.3, clip=True).encode(
                x=x, y=alt.Y("lo:Q", scale=ys, axis=None), y2="hi:Q"),
            base.mark_tick(color=col, orient="horizontal", size=7, thickness=1.4, opacity=1, clip=True).encode(
                x=x, y=alt.Y("hi:Q", scale=ys, axis=None)),
            base.mark_tick(color=col, orient="horizontal", size=7, thickness=1.4, opacity=1, clip=True).encode(
                x=x, y=alt.Y("lo:Q", scale=ys, axis=None)),
            base.mark_line(color=col, strokeWidth=1.4, clip=True).encode(
                x=x, y=alt.Y("val:Q", scale=ys, axis=None), detail="seg:N"),
            base.mark_point(shape="circle", filled=False, color=col, size=80, strokeWidth=1.6,
                            opacity=1, clip=True).encode(
                x=x, y=alt.Y("val:Q", scale=ys, axis=None)),
        ]

    # inward ticks on all four sides
    ydf = pd.DataFrame({"t": spec["ticks"]})
    layers.append(alt.Chart(ydf).mark_rule(color=BLACK, strokeWidth=2).encode(
        y=alt.Y("t:Q", scale=ys, axis=None), x=alt.value(0), x2=alt.value(6)))
    layers.append(alt.Chart(ydf).mark_rule(color=BLACK, strokeWidth=2).encode(
        y=alt.Y("t:Q", scale=ys, axis=None), x=alt.value(W - 6), x2=alt.value(W)))
    xdf = pd.DataFrame({"t": X_TICKS, "lab": X_TICK_LABELS})
    layers.append(alt.Chart(xdf).mark_rule(color=BLACK, strokeWidth=2).encode(
        x=alt.X("t:Q", scale=XS, axis=None), y=alt.value(h - 6), y2=alt.value(h)))
    layers.append(alt.Chart(xdf).mark_rule(color=BLACK, strokeWidth=2).encode(
        x=alt.X("t:Q", scale=XS, axis=None), y=alt.value(0), y2=alt.value(6)))

    # y tick labels
    ldf = pd.DataFrame({"t": spec["labels"], "lab": spec["label_text"]})
    layers.append(alt.Chart(ldf).mark_text(font=FONT, fontSize=23, align="right", baseline="middle",
                                           color=BLACK).encode(
        y=alt.Y("t:Q", scale=ys, axis=None), x=alt.value(-5), text="lab:N"))
    layers += title_layers(spec["title"], h)

    if bottom:
        layers.append(alt.Chart(xdf).mark_text(font=FONT, fontSize=23, align="center", baseline="alphabetic",
                                               color=BLACK).encode(
            x=alt.X("t:Q", scale=XS, axis=None), y=alt.value(h + 36.5), text="lab:N"))
        layers.append(txt(X_TITLE, 465, h + 72, 24, align="center"))

    if with_legend:
        layers += legend_layers()

    return alt.layer(*layers).properties(width=W, height=h)


panels = [panel(p, bottom=(i == len(PANELS) - 1), with_legend=(i == 0)) for i, p in enumerate(PANELS)]

chart = alt.vconcat(*panels, spacing=9.5, bounds="flush").properties(
    padding={"left": 0, "top": 0, "right": 2, "bottom": 0}
).configure(font=FONT).configure_view(stroke=BLACK, strokeWidth=2)

chart.save("out.html", embed_options={"renderer": "svg", "actions": False})
